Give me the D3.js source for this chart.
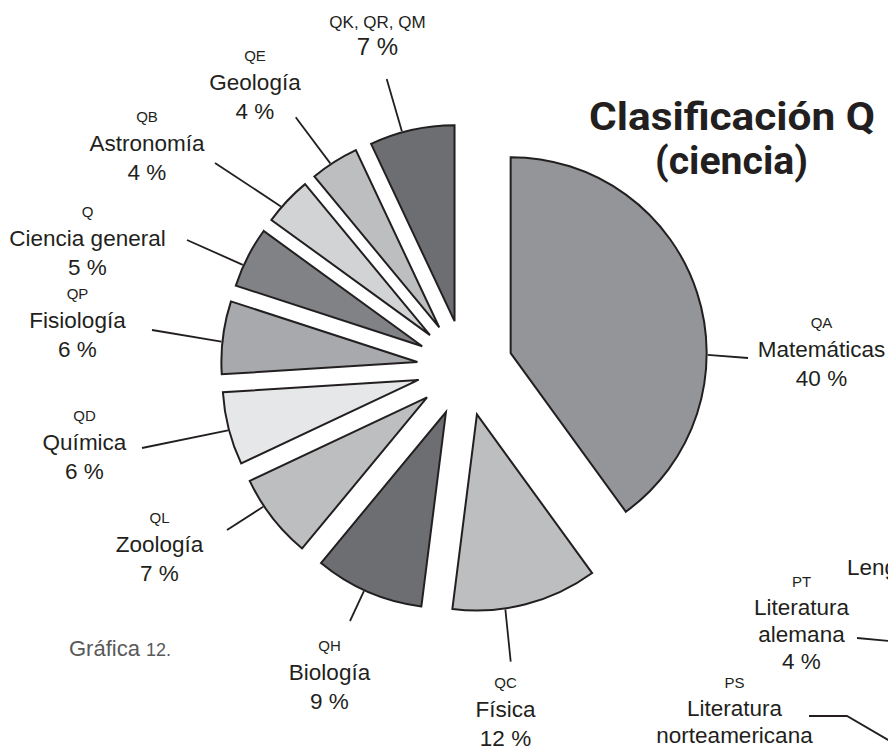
<!DOCTYPE html>
<meta charset="utf-8">
<style>
body { margin:0; background:#fff; font-family:"Liberation Sans", Arial, Helvetica, sans-serif; }
.slices path { stroke:#231f20; stroke-width:2px; }
.leaders line, .leaders polyline { stroke:#231f20; stroke-width:1.8px; fill:none; }
.lbl text { fill:#231f20; text-anchor:middle; }
.title { font-family:Roboto, "DejaVu Sans", sans-serif; font-weight:700; fill:#231f20; text-anchor:middle; }
</style>
<svg width="888" height="748"></svg>
<script src="https://d3js.org/d3.v7.min.js"></script>
<script>

// datos: clasificación Q (ciencia)
var codes  = ["QA", "QC", "QH", "QL", "QD", "QP", "Q", "QB", "QE", "QK, QR, QM"];
var names  = ["Matemáticas", "Física", "Biología", "Zoología", "Química", "Fisiología", "Ciencia general", "Astronomía", "Geología", ""];
var shares = [40, 12, 9, 7, 6, 6, 5, 4, 4, 7];

// estilo de cada sector
var shades = ["#939598", "#bcbec0", "#6d6e71", "#bcbec0", "#e6e7e8", "#a7a9ac", "#808285", "#d1d3d4", "#bcbec0", "#6d6e71"];

// posición de las etiquetas (x, línea base del código), ángulo de salida del conector y su extremo
var labelX    = [821.5, 505.5, 329.5, 159.5, 84.5, 77.5, 87.5, 147, 255, 377.5];
var labelY    = [328, 688, 651, 523, 421, 299, 217, 122, 61, 28];
var leadAngle = [90.5, 171.7, 204.6, 236.3, 255.2, 275.9, 294.4, 310.8, 326.4, 344.5];
var leadEnd   = [[748,358], [510.7,661.7], [350,621], [227,530], [142,448], [152,330], [187,240], [215,163], [295.7,117.3], [386.7,79]];

var svg = d3.select("svg"),
    cx = 465, cy = 368,
    radius = 196,
    explode = 48;

var data = codes.map(function(c, i) {
  return {code: c, name: names[i], share: shares[i], i: i};
});

var pie = d3.pie().sort(null).value(function(d) { return d.share; });
var arc = d3.arc().innerRadius(0).outerRadius(radius);
var arcs = pie(data);

function apex(a) {
  var m = (a.startAngle + a.endAngle) / 2;
  return [cx + explode * Math.sin(m), cy - explode * Math.cos(m)];
}

// sectores
svg.append("g").attr("class", "slices")
  .selectAll("path")
  .data(arcs)
  .enter().append("path")
    .attr("transform", function(a) { var p = apex(a); return "translate(" + p[0] + "," + p[1] + ")"; })
    .attr("fill", function(a) { return shades[a.data.i]; })
    .attr("d", arc);

// conectores
svg.append("g").attr("class", "leaders")
  .selectAll("line")
  .data(arcs)
  .enter().append("line")
    .attr("x1", function(a) { var p = apex(a), t = leadAngle[a.data.i] * Math.PI / 180; return p[0] + (radius + 1) * Math.sin(t); })
    .attr("y1", function(a) { var p = apex(a), t = leadAngle[a.data.i] * Math.PI / 180; return p[1] - (radius + 1) * Math.cos(t); })
    .attr("x2", function(a) { return leadEnd[a.data.i][0]; })
    .attr("y2", function(a) { return leadEnd[a.data.i][1]; });

// etiquetas
var lbl = svg.append("g").attr("class", "lbl")
  .selectAll("g")
  .data(data)
  .enter().append("g")
    .attr("transform", function(d) { return "translate(" + labelX[d.i] + "," + labelY[d.i] + ")"; });

lbl.append("text")
    .style("font-size", function(d) { return d.name ? "15px" : "17px"; })
    .text(function(d) { return d.code; });

lbl.filter(function(d) { return d.name; }).append("text")
    .attr("y", 28.5)
    .style("font-size", "22.5px")
    .text(function(d) { return d.name; });

lbl.append("text")
    .attr("y", function(d) { return d.name ? 57.5 : 27; })
    .style("font-size", function(d) { return d.name ? "22.5px" : "24px"; })
    .text(function(d) { return d.share + " %"; });

// título
svg.append("text").attr("class", "title")
    .attr("x", 732).attr("y", 130)
    .attr("textLength", 286).attr("lengthAdjust", "spacingAndGlyphs")
    .style("font-size", "39px")
    .text("Clasificación Q");
svg.append("text").attr("class", "title")
    .attr("x", 731.5).attr("y", 174)
    .attr("textLength", 153).attr("lengthAdjust", "spacingAndGlyphs")
    .style("font-size", "39px")
    .text("(ciencia)");

var cap = svg.append("text")
    .attr("x", 120).attr("y", 656)
    .attr("text-anchor", "middle")
    .style("font-size", "22px").style("fill", "#58595b");
cap.append("tspan").text("Gráfica ");
cap.append("tspan").style("font-size", "18px").text("12.");

// fragmento de la gráfica vecina (clasificación P)
var pCodes = ["PT", "PS"];
var pLines = [["Literatura", "alemana", "4 %"], ["Literatura", "norteamericana"]];
var pX = [801.5, 734.5], pY = [587, 688];

var frag = svg.append("g").attr("class", "lbl");
pCodes.forEach(function(c, k) {
  var g = frag.append("g").attr("transform", "translate(" + pX[k] + "," + pY[k] + ")");
  g.append("text").style("font-size", "15px").text(c);
  pLines[k].forEach(function(t, j) {
    g.append("text").attr("y", 28 + j * 27).style("font-size", "22.5px").text(t);
  });
});
frag.append("text").attr("x", 847).attr("y", 575)
    .style("text-anchor", "start").style("font-size", "22.5px").text("Lengua");

var fl = svg.append("g").attr("class", "leaders");
fl.append("line").attr("x1", 857).attr("y1", 638).attr("x2", 890).attr("y2", 641);
fl.append("polyline").attr("points", "809,716 847,716 890,741");

</script>
